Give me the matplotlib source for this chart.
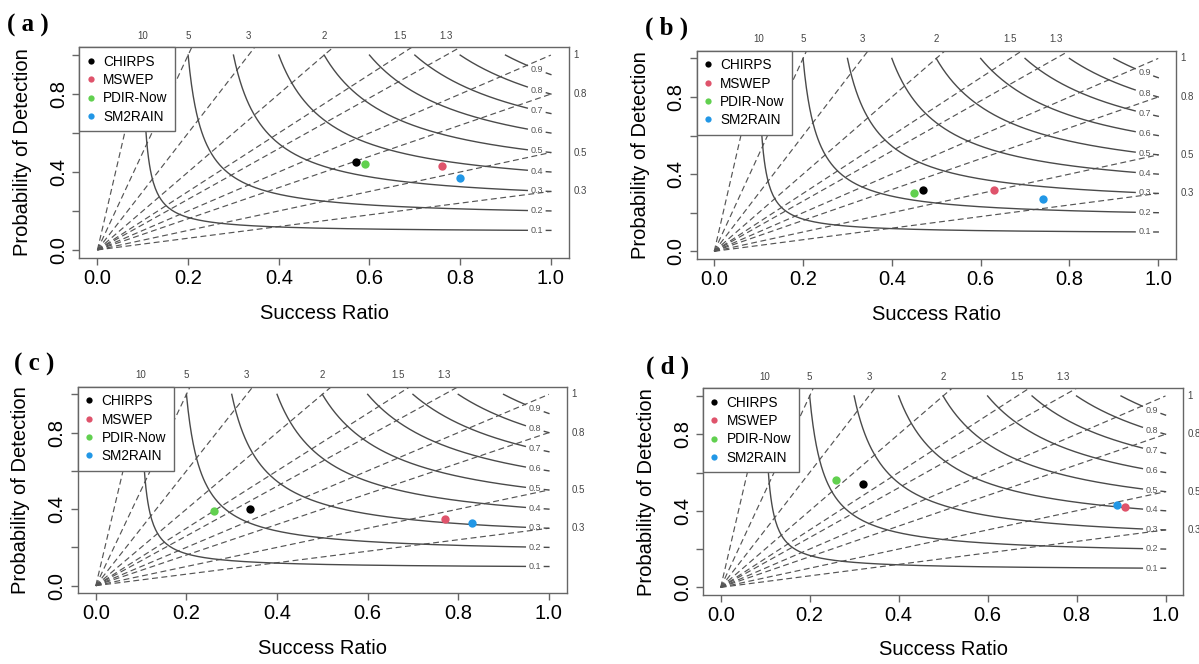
import numpy as np
import matplotlib
matplotlib.use("Agg")
import matplotlib.pyplot as plt

plt.rcParams['font.family'] = ['Liberation Sans', 'DejaVu Sans']

# Products and colours (R 4.x default palette)
products = ['CHIRPS', 'MSWEP', 'PDIR-Now', 'SM2RAIN']
colors = ['#000000', '#DF536B', '#61D04F', '#2297E6']

# Success ratio / probability of detection per panel
sr_a = [0.57, 0.76, 0.59, 0.80]
pod_a = [0.45, 0.43, 0.44, 0.37]
sr_b = [0.47, 0.63, 0.45, 0.74]
pod_b = [0.32, 0.32, 0.30, 0.27]
sr_c = [0.34, 0.77, 0.26, 0.83]
pod_c = [0.40, 0.35, 0.39, 0.33]
sr_d = [0.32, 0.91, 0.26, 0.89]
pod_d = [0.54, 0.42, 0.56, 0.43]

panel_names = ['( a )', '( b )', '( c )', '( d )']

# Background lines of the performance diagram
bias_values = [0.3, 0.5, 0.8, 1, 1.3, 1.5, 2, 3, 5, 10]
bias_top = [10, 5, 3, 2, 1.5, 1.3]
bias_top_labels = ['10', '5', '3', '2', '1.5', '1.3']
bias_right = [1, 0.8, 0.5, 0.3]
bias_right_labels = ['1', '0.8', '0.5', '0.3']
csi_values = [0.1, 0.2, 0.3, 0.4, 0.5, 0.6, 0.7, 0.8, 0.9]

W, H = 1199, 664
# axes boxes in pixels: left, right, top, bottom
boxes = [(79.3, 569.0, 47.3, 257.7),
         (696.5, 1176.0, 50.7, 259.0),
         (77.7, 567.0, 386.7, 593.3),
         (702.9, 1183.3, 388.3, 595.0)]
letter_pos = [(28, 25), (667, 28), (34, 364), (668, 367)]

line_col = '#4a4a4a'
frame_col = '#666666'


def csi_pod(csi, sr):
    return 1.0 / (1.0 / csi - 1.0 / sr + 1.0)


def draw_panel(ax, sr, pod):
    ax.set_xlim(-0.04, 1.04)
    ax.set_ylim(-0.04, 1.04)

    # bias lines
    xs = np.linspace(0, 1, 200)
    for b in bias_values:
        ax.plot(xs, b * xs, color='#555555', lw=0.85, dashes=(5, 3),
                zorder=1, clip_on=True)

    # CSI curves, broken near the right edge for the label
    for c in csi_values:
        x1 = np.linspace(c, 0.948, 400)
        ax.plot(x1, csi_pod(c, x1), color=line_col, lw=1.0, zorder=2)
        x2 = np.linspace(0.99, 1.0, 5)
        ax.plot(x2, csi_pod(c, x2), color=line_col, lw=1.0, zorder=2)
        ax.text(0.97, csi_pod(c, 0.97), '%.1f' % c, fontsize=6.5,
                color='#555555', ha='center', va='center', zorder=2)

    # bias labels
    for b, lab in zip(bias_top, bias_top_labels):
        ax.text(1.0 / b, 1.1, lab, fontsize=7, color='#444444',
                ha='center', va='center', clip_on=False)
    for b, lab in zip(bias_right, bias_right_labels):
        ax.text(1.05, b, lab, fontsize=7, color='#444444',
                ha='left', va='center', clip_on=False)

    # products
    for i in range(len(products)):
        ax.plot(sr[i], pod[i], 'o', color=colors[i], markersize=6,
                markeredgewidth=0, zorder=5, label=products[i])

    leg = ax.legend(loc='upper left', bbox_to_anchor=(0, 1),
                    borderaxespad=0, fancybox=False, fontsize=9.8,
                    handlelength=0.6, handletextpad=0.6, labelspacing=0.32,
                    borderpad=0.55, markerscale=0.75, framealpha=1)
    leg.get_frame().set_edgecolor(frame_col)
    leg.get_frame().set_linewidth(1.0)
    leg.set_zorder(10)

    ax.set_xticks([0, 0.2, 0.4, 0.6, 0.8, 1.0])
    ax.set_xticklabels(['0.0', '0.2', '0.4', '0.6', '0.8', '1.0'])
    ax.set_yticks([0, 0.2, 0.4, 0.6, 0.8, 1.0])
    ax.set_yticklabels(['0.0', '', '0.4', '', '0.8', ''])
    ax.tick_params(axis='both', length=5, width=1, color=frame_col,
                   labelsize=14.5, pad=3)
    for lab in ax.get_yticklabels():
        lab.set_rotation(90)
        lab.set_va('center')
        lab.set_ha('right')
    for s in ax.spines.values():
        s.set_color(frame_col)
        s.set_linewidth(1.0)

    ax.set_xlabel('Success Ratio', fontsize=14.5)
    ax.set_ylabel('Probability of Detection', fontsize=14.5)
    ax.xaxis.set_label_coords(0.5, -0.22)
    ax.yaxis.set_label_coords(-0.097, 0.5)


fig = plt.figure(figsize=(W / 100, H / 100), dpi=100)
data = [(sr_a, pod_a), (sr_b, pod_b), (sr_c, pod_c), (sr_d, pod_d)]
for k, (box, (sr, pod)) in enumerate(zip(boxes, data)):
    l, r, t, b = box
    ax = fig.add_axes([l / W, 1 - b / H, (r - l) / W, (b - t) / H])
    draw_panel(ax, sr, pod)
    px, py = letter_pos[k]
    fig.text(px / W, 1 - py / H, panel_names[k], fontsize=18,
             fontweight='bold', family='Liberation Serif',
             ha='center', va='center')

fig.savefig('out.png', dpi=100)
